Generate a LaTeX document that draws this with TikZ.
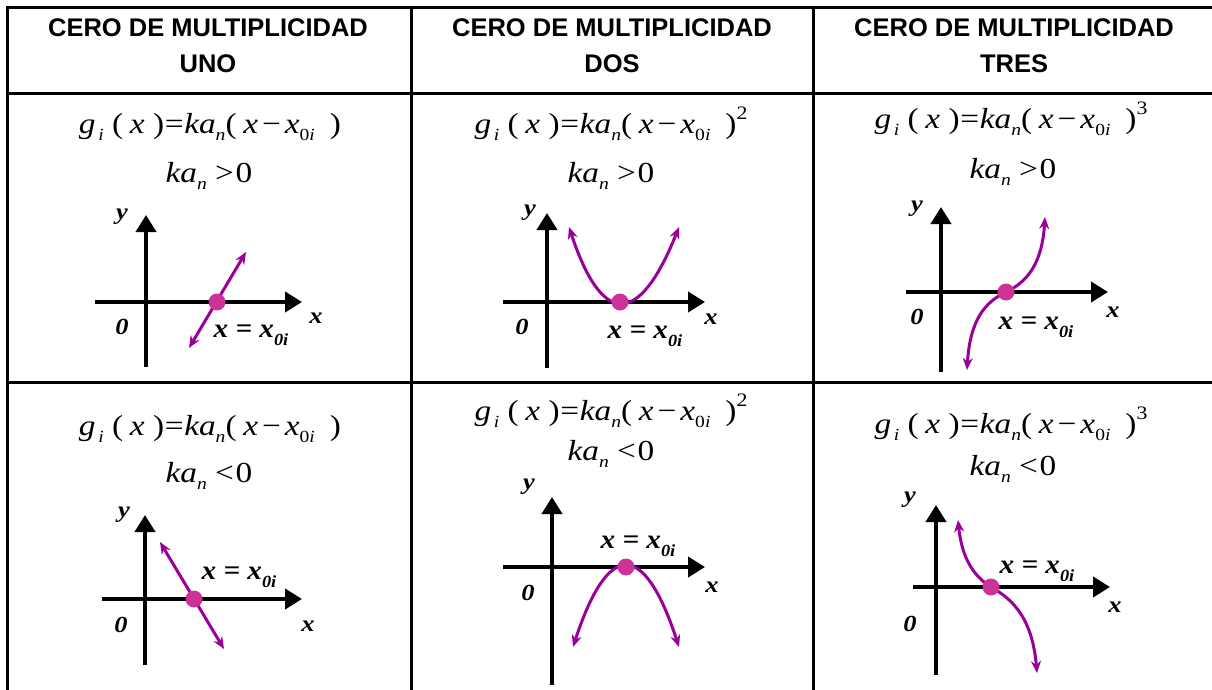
\documentclass[tikz,border=0pt]{standalone}
\usepackage{fontspec}
\usepackage{graphicx}
\setmainfont{Liberation Serif}
\newfontfamily\hdrfont{Liberation Sans}
\usetikzlibrary{arrows.meta}
\definecolor{purp}{RGB}{153,0,153}
\definecolor{dotc}{RGB}{204,51,153}
\newcommand{\lo}[1]{\raisebox{-0.25em}{\fontsize{17}{17}\selectfont #1}}
\newcommand{\hi}[1]{\raisebox{0.45em}{\fontsize{19}{19}\selectfont #1}}
\newcommand{\fgi}{\textit{g}\hspace{0.08em}\lo{\textit{i}}\hspace{0.25em}(\hspace{0.2em}\textit{x}\hspace{0.25em})\hspace{0.02em}=\hspace{0.02em}\textit{ka}\lo{\textit{n}}(\hspace{0.2em}\textit{x}\hspace{0.12em}−\hspace{0.12em}\textit{x}\lo{0\textit{i}}\hspace{0.45em})}
\newcommand{\kpos}{\textit{ka}\lo{\textit{n}}\hspace{0.25em}>\hspace{0.05em}0}
\newcommand{\kneg}{\textit{ka}\lo{\textit{n}}\hspace{0.25em}<\hspace{0.05em}0}
\newcommand{\hst}[1]{\scalebox{1.15}[1]{#1}}
\newcommand{\lst}[1]{\scalebox{1.15}[1]{#1}}
\newcommand{\xlab}{\scalebox{1.08}[1]{\textbf{\textit{x = x}}\raisebox{-0.28em}{\fontsize{17}{17}\selectfont\textbf{\textit{0i}}}}}
\tikzset{
  tline/.style={line width=3pt,line cap=rect},
  axis/.style={line width=4pt,-{Triangle[length=17pt,width=20pt]}},
  crv/.style={line width=3pt,color=purp,{Stealth[length=12pt,width=10pt]}-{Stealth[length=12pt,width=10pt]}},
  zdot/.style={circle,fill=dotc,inner sep=0pt,minimum size=17pt},
  hdr/.style={anchor=base,font=\hdrfont\bfseries\fontsize{25.5}{25.5}\selectfont,inner sep=0pt},
  frm/.style={anchor=base,font=\fontsize{29}{29}\selectfont,inner sep=0pt},
  alab/.style={font=\bfseries\itshape\fontsize{23}{23}\selectfont,inner sep=0pt},
  zlab/.style={font=\fontsize{27}{27}\selectfont,inner sep=0pt},
}
\begin{document}
\begin{tikzpicture}[x=1pt,y=-1pt]
\useasboundingbox (0,0) rectangle (1212,689);
% table grid
\coordinate (tl) at (7,7); \coordinate (tr) at (1212,7);
\coordinate (hl) at (7,93); \coordinate (hr) at (1212,93);
\coordinate (rl) at (7,382); \coordinate (rr) at (1212,382);
\coordinate (v0t) at (7,7); \coordinate (v0b) at (7,689);
\coordinate (v1t) at (411,7); \coordinate (v1b) at (411,689);
\coordinate (v2t) at (813,7); \coordinate (v2b) at (813,689);
\draw[tline] (tl) -- (tr);
\draw[tline] (hl) -- (hr);
\draw[tline] (rl) -- (rr);
\draw[tline] (v0t) -- (v0b);
\draw[tline] (v1t) -- (v1b);
\draw[tline] (v2t) -- (v2b);
% headers
\node[hdr] (h1a) at (208,36) {CERO DE MULTIPLICIDAD};
\node[hdr] (h1b) at (208,72) {UNO};
\node[hdr] (h2a) at (612,36) {CERO DE MULTIPLICIDAD};
\node[hdr] (h2b) at (612,72) {DOS};
\node[hdr] (h3a) at (1014,36) {CERO DE MULTIPLICIDAD};
\node[hdr] (h3b) at (1014,72) {TRES};
% formulas row 1
\node[frm] (f11) at (210,133) {\hst{\fgi}};
\node[frm] (k11) at (209,182) {\hst{\kpos}};
\node[frm] (f12) at (611,133) {\hst{\fgi\hi{2}}};
\node[frm] (k12) at (611,182) {\hst{\kpos}};
\node[frm] (f13) at (1011,128) {\hst{\fgi\hi{3}}};
\node[frm] (k13) at (1013,178) {\hst{\kpos}};
% formulas row 2
\node[frm] (f21) at (210,435) {\hst{\fgi}};
\node[frm] (k21) at (209,482) {\hst{\kneg}};
\node[frm] (f22) at (611,420) {\hst{\fgi\hi{2}}};
\node[frm] (k22) at (611,460) {\hst{\kneg}};
\node[frm] (f23) at (1011,433) {\hst{\fgi\hi{3}}};
\node[frm] (k23) at (1013,475) {\hst{\kneg}};

% ---- panel 1: line, positive
\coordinate (a1b) at (146,367); \coordinate (a1t) at (146,215);
\coordinate (a1l) at (95,302); \coordinate (a1r) at (302,302);
\draw[axis] (a1b) -- (a1t);
\draw[axis] (a1l) -- (a1r);
\coordinate (c1s) at (189,348); \coordinate (c1e) at (246,252);
\draw[crv] (c1s) -- (c1e);
\node[zdot] (d1) at (217,302) {};
\node[alab] (y1) at (122,217) {\lst{y}};
\node[alab] (o1) at (122,327) {\lst{0}};
\node[alab] (x1) at (316,318) {\lst{x}};
\node[zlab] (l1) at (251,335) {\xlab};

% ---- panel 2: parabola up
\coordinate (a2b) at (547,368); \coordinate (a2t) at (547,213);
\coordinate (a2l) at (503,302); \coordinate (a2r) at (705,302);
\draw[axis] (a2b) -- (a2t);
\draw[axis] (a2l) -- (a2r);
\coordinate (c2s) at (569,227); \coordinate (c2e) at (679,227);
\draw[crv] (c2s) .. controls (602,327) and (639,327) .. (c2e);
\node[zdot] (d2) at (620,302) {};
\node[alab] (y2) at (530,213) {\lst{y}};
\node[alab] (o2) at (522,327) {\lst{0}};
\node[alab] (x2) at (711,319) {\lst{x}};
\node[zlab] (l2) at (645,336) {\xlab};

% ---- panel 3: cubic positive
\coordinate (a3b) at (941,372); \coordinate (a3t) at (941,207);
\coordinate (a3l) at (906,292); \coordinate (a3r) at (1108,292);
\draw[axis] (a3b) -- (a3t);
\draw[axis] (a3l) -- (a3r);
\coordinate (c3s) at (967,370); \coordinate (c3m) at (1006,292); \coordinate (c3e) at (1045,217);
\draw[crv] (c3s) .. controls (970,320) and (985,302) .. (c3m) .. controls (1027,282) and (1042,264) .. (c3e);
\node[zdot] (d3) at (c3m) {};
\node[alab] (y3) at (917,209) {\lst{y}};
\node[alab] (o3) at (917,317) {\lst{0}};
\node[alab] (x3) at (1113,312) {\lst{x}};
\node[zlab] (l3) at (1036,327) {\xlab};

% ---- panel 4: line, negative
\coordinate (a4b) at (145,665); \coordinate (a4t) at (145,515);
\coordinate (a4l) at (102,599); \coordinate (a4r) at (302,599);
\draw[axis] (a4b) -- (a4t);
\draw[axis] (a4l) -- (a4r);
\coordinate (c4s) at (160,542); \coordinate (c4e) at (224,649);
\draw[crv] (c4s) -- (c4e);
\node[zdot] (d4) at (194,599) {};
\node[alab] (y4) at (124,515) {\lst{y}};
\node[alab] (o4) at (121,625) {\lst{0}};
\node[alab] (x4) at (308,626) {\lst{x}};
\node[zlab] (l4) at (239,577) {\xlab};

% ---- panel 5: parabola down
\coordinate (a5b) at (552,685); \coordinate (a5t) at (552,497);
\coordinate (a5l) at (503,567); \coordinate (a5r) at (705,567);
\draw[axis] (a5b) -- (a5t);
\draw[axis] (a5l) -- (a5r);
\coordinate (c5s) at (573,647); \coordinate (c5e) at (679,647);
\draw[crv] (c5s) .. controls (608,540) and (644,540) .. (c5e);
\node[zdot] (d5) at (626,567) {};
\node[alab] (y5) at (529,487) {\lst{y}};
\node[alab] (o5) at (528,593) {\lst{0}};
\node[alab] (x5) at (712,587) {\lst{x}};
\node[zlab] (l5) at (638,546) {\xlab};

% ---- panel 6: cubic negative
\coordinate (a6b) at (936,675); \coordinate (a6t) at (936,505);
\coordinate (a6l) at (913,587); \coordinate (a6r) at (1110,587);
\draw[axis] (a6b) -- (a6t);
\draw[axis] (a6l) -- (a6r);
\coordinate (c6s) at (958,520); \coordinate (c6m) at (991,587); \coordinate (c6e) at (1037,673);
\draw[crv] (c6s) .. controls (962,560) and (975,577) .. (c6m) .. controls (1010,598) and (1032,615) .. (c6e);
\node[zdot] (d6) at (c6m) {};
\node[alab] (y6) at (910,500) {\lst{y}};
\node[alab] (o6) at (910,624) {\lst{0}};
\node[alab] (x6) at (1115,607) {\lst{x}};
\node[zlab] (l6) at (1037,571) {\xlab};
\end{tikzpicture}
\end{document}
